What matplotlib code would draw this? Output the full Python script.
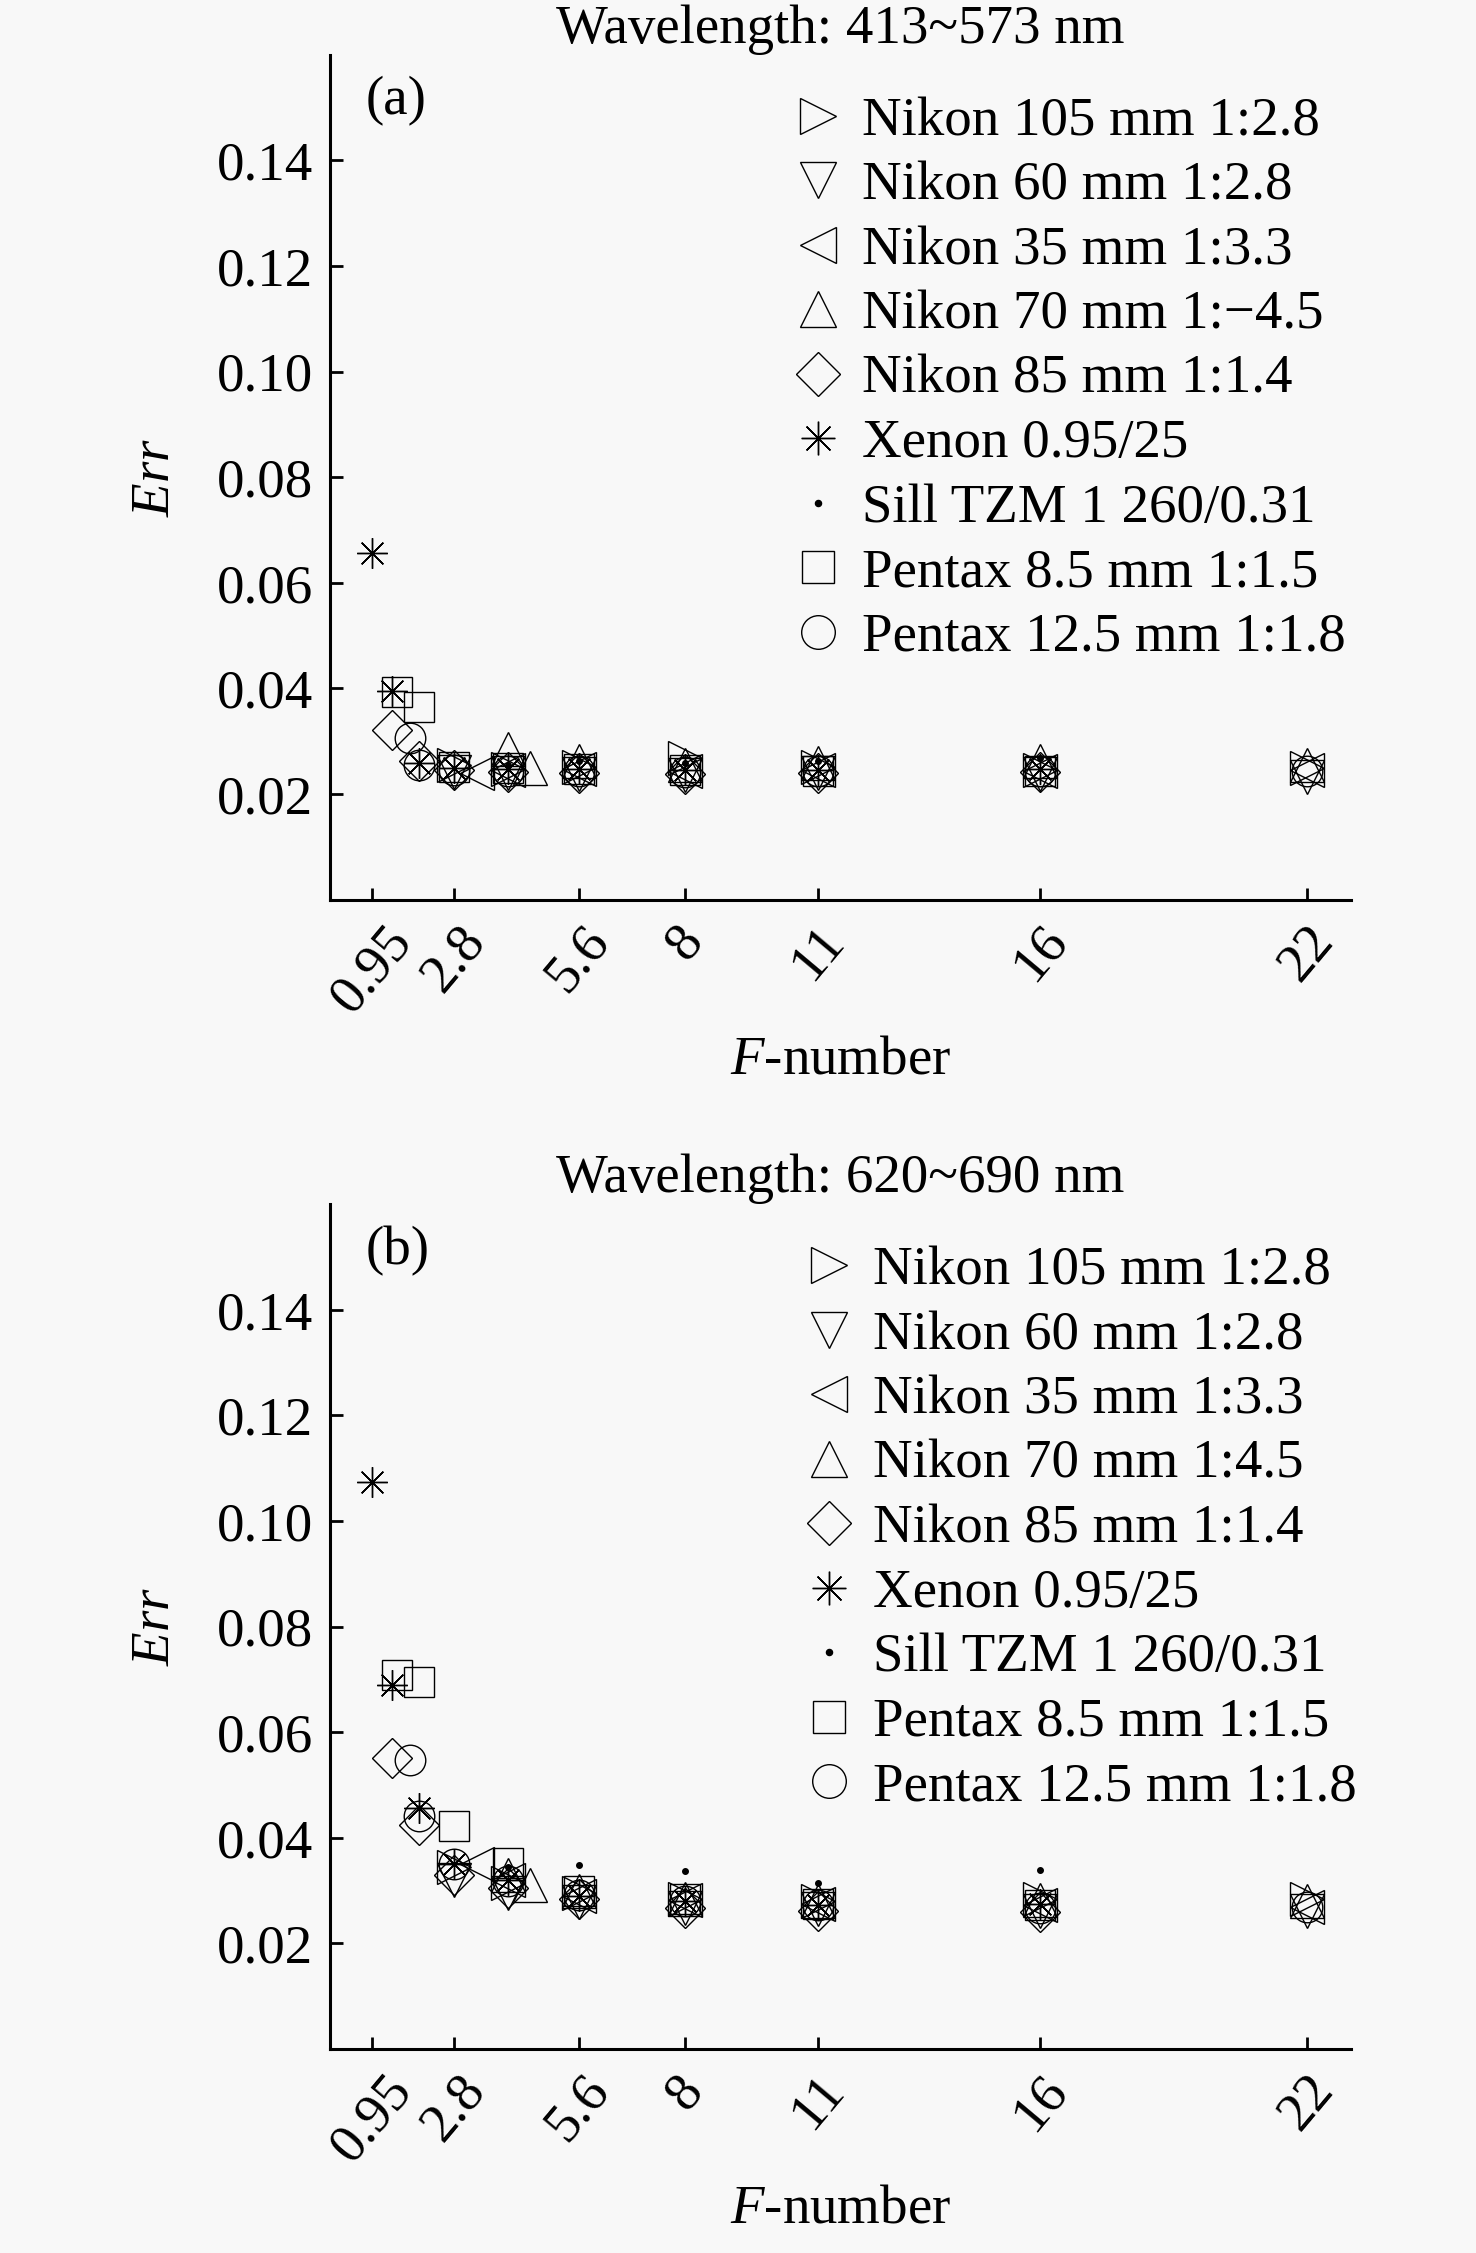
import matplotlib
matplotlib.use("Agg")
import matplotlib.pyplot as plt

plt.rcParams['font.family'] = ['Liberation Serif', 'DejaVu Serif']
plt.rcParams['mathtext.fontset'] = 'custom'
plt.rcParams['mathtext.rm'] = 'Liberation Serif'
plt.rcParams['mathtext.it'] = 'Liberation Serif:italic'

# ---------------- data ----------------
xticks = [0.95, 2.8, 5.6, 8, 11, 16, 22]
xtick_labels = ["0.95", "2.8", "5.6", "8", "11", "16", "22"]
yticks = [0.02, 0.04, 0.06, 0.08, 0.10, 0.12, 0.14]
ytick_labels = ["0.02", "0.04", "0.06", "0.08", "0.10", "0.12", "0.14"]

labels_a = ["Nikon 105 mm 1:2.8", "Nikon 60 mm 1:2.8", "Nikon 35 mm 1:3.3",
            "Nikon 70 mm 1:\u22124.5", "Nikon 85 mm 1:1.4", "Xenon 0.95/25",
            "Sill TZM 1 260/0.31", "Pentax 8.5 mm 1:1.5", "Pentax 12.5 mm 1:1.8"]
labels_b = ["Nikon 105 mm 1:2.8", "Nikon 60 mm 1:2.8", "Nikon 35 mm 1:3.3",
            "Nikon 70 mm 1:4.5", "Nikon 85 mm 1:1.4", "Xenon 0.95/25",
            "Sill TZM 1 260/0.31", "Pentax 8.5 mm 1:1.5", "Pentax 12.5 mm 1:1.8"]

f_n105 = [2.8, 4, 5.6, 8, 11, 16, 22]
f_n60 = [2.8, 4, 5.6, 8, 11, 16, 22]
f_n35 = [3.3, 4, 5.6, 8, 11, 16, 22]
f_n70 = [4, 4.5, 5.6, 8, 11, 16, 22]
f_n85 = [1.4, 2, 2.8, 4, 5.6, 8, 11, 16]
f_xen = [0.95, 1.4, 2, 2.8, 4, 5.6, 8, 11, 16]
f_sill = [4, 5.6, 8, 11, 16]
f_p85 = [1.5, 2, 2.8, 4, 5.6, 8, 11, 16]
f_p125 = [1.8, 2, 2.8, 4, 5.6, 8, 11, 16, 22]

# panel (a): 413~573 nm
a_n105 = [0.0255, 0.0248, 0.0252, 0.0268, 0.0252, 0.0245, 0.0250]
a_n60 = [0.0242, 0.0240, 0.0238, 0.0236, 0.0240, 0.0238, 0.0232]
a_n35 = [0.0240, 0.0245, 0.0248, 0.0244, 0.0246, 0.0243, 0.0245]
a_n70 = [0.0285, 0.0250, 0.0262, 0.0255, 0.0258, 0.0262, 0.0255]
a_n85 = [0.0322, 0.0262, 0.0245, 0.0242, 0.0240, 0.0238, 0.0240, 0.0242]
a_xen = [0.0656, 0.0395, 0.0258, 0.0250, 0.0248, 0.0247, 0.0246, 0.0246, 0.0248]
a_sill = [0.0255, 0.0262, 0.0258, 0.0262, 0.0268]
a_p85 = [0.0393, 0.0365, 0.0252, 0.0250, 0.0248, 0.0245, 0.0244, 0.0244]
a_p125 = [0.0306, 0.0255, 0.0246, 0.0244, 0.0244, 0.0242, 0.0243, 0.0244, 0.0244]

# panel (b): 620~690 nm
b_n105 = [0.0345, 0.0315, 0.0295, 0.0285, 0.0280, 0.0285, 0.0285]
b_n60 = [0.0320, 0.0295, 0.0278, 0.0268, 0.0265, 0.0262, 0.0262]
b_n35 = [0.0350, 0.0320, 0.0290, 0.0282, 0.0275, 0.0272, 0.0270]
b_n70 = [0.0330, 0.0311, 0.0300, 0.0285, 0.0280, 0.0282, 0.0280]
b_n85 = [0.0551, 0.0425, 0.0330, 0.0305, 0.0285, 0.0268, 0.0262, 0.0260]
b_xen = [0.1074, 0.0689, 0.0456, 0.0350, 0.0320, 0.0290, 0.0280, 0.0272, 0.0275]
b_sill = [0.0345, 0.0349, 0.0338, 0.0315, 0.0340]
b_p85 = [0.0708, 0.0696, 0.0422, 0.0352, 0.0300, 0.0285, 0.0275, 0.0272]
b_p125 = [0.0548, 0.0441, 0.0350, 0.0318, 0.0292, 0.0280, 0.0272, 0.0268, 0.0270]

fs_a = [f_n105, f_n60, f_n35, f_n70, f_n85, f_xen, f_sill, f_p85, f_p125]
ys_a = [a_n105, a_n60, a_n35, a_n70, a_n85, a_xen, a_sill, a_p85, a_p125]
ys_b = [b_n105, b_n60, b_n35, b_n70, b_n85, b_xen, b_sill, b_p85, b_p125]

markers = ['>', 'v', '<', '^', 'D', (8, 2, 0), '.', 's', 'o']
msizes = [24, 24, 24, 24, 20, 22, 8, 21, 22]

FS = 39.5
BG = '#f8f8f8'

fig = plt.figure(figsize=(14.76, 22.53), dpi=100, facecolor=BG)

def panel(rect, ys, labels, title, tag, leg_anchor):
    ax = fig.add_axes(rect)
    ax.set_facecolor(BG)
    handles = []
    for f, y, m, ms, lab in zip(fs_a, ys, markers, msizes, labels):
        filled = (m == '.')
        h, = ax.plot(f, y, linestyle='none', marker=m, markersize=ms,
                     markerfacecolor='k' if filled else 'none',
                     markeredgecolor='k', markeredgewidth=1.0, label=lab)
        handles.append(h)
    ax.set_xlim(0, 23)
    ax.set_ylim(0, 0.16)
    ax.set_xticks(xticks)
    ax.set_xticklabels(xtick_labels, rotation=50, fontsize=FS)
    ax.set_yticks(yticks)
    ax.set_yticklabels(ytick_labels, fontsize=FS)
    for s in ['top', 'right']:
        ax.spines[s].set_visible(False)
    for s in ['left', 'bottom']:
        ax.spines[s].set_linewidth(2.2)
    ax.tick_params(axis='both', direction='in', length=9, width=2.0)
    ax.tick_params(axis='y', pad=12)
    ax.tick_params(axis='x', pad=12)
    ax.set_xlabel(r'$\it{F}$-number', fontsize=FS, labelpad=9)
    ax.set_ylabel(r'$\it{Err}$', fontsize=FS, labelpad=26)
    ax.set_title(title, fontsize=FS, pad=4)
    ax.text(0.035, 0.945, tag, transform=ax.transAxes, fontsize=FS,
            ha='left', va='center')
    ax.legend(handles=handles, loc='upper left', bbox_to_anchor=leg_anchor,
              frameon=False, fontsize=FS, handlelength=1.0,
              handletextpad=0.3, labelspacing=0.255, borderpad=0,
              markerscale=1.1)
    return ax

panel([0.2236, 0.6007, 0.6917, 0.375], ys_a, labels_a,
      "Wavelength: 413~573 nm", "(a)", (0.424, 0.983))
panel([0.2236, 0.0905, 0.6917, 0.375], ys_b, labels_b,
      "Wavelength: 620~690 nm", "(b)", (0.435, 0.983))

fig.savefig("out.png", dpi=100, facecolor=BG)
